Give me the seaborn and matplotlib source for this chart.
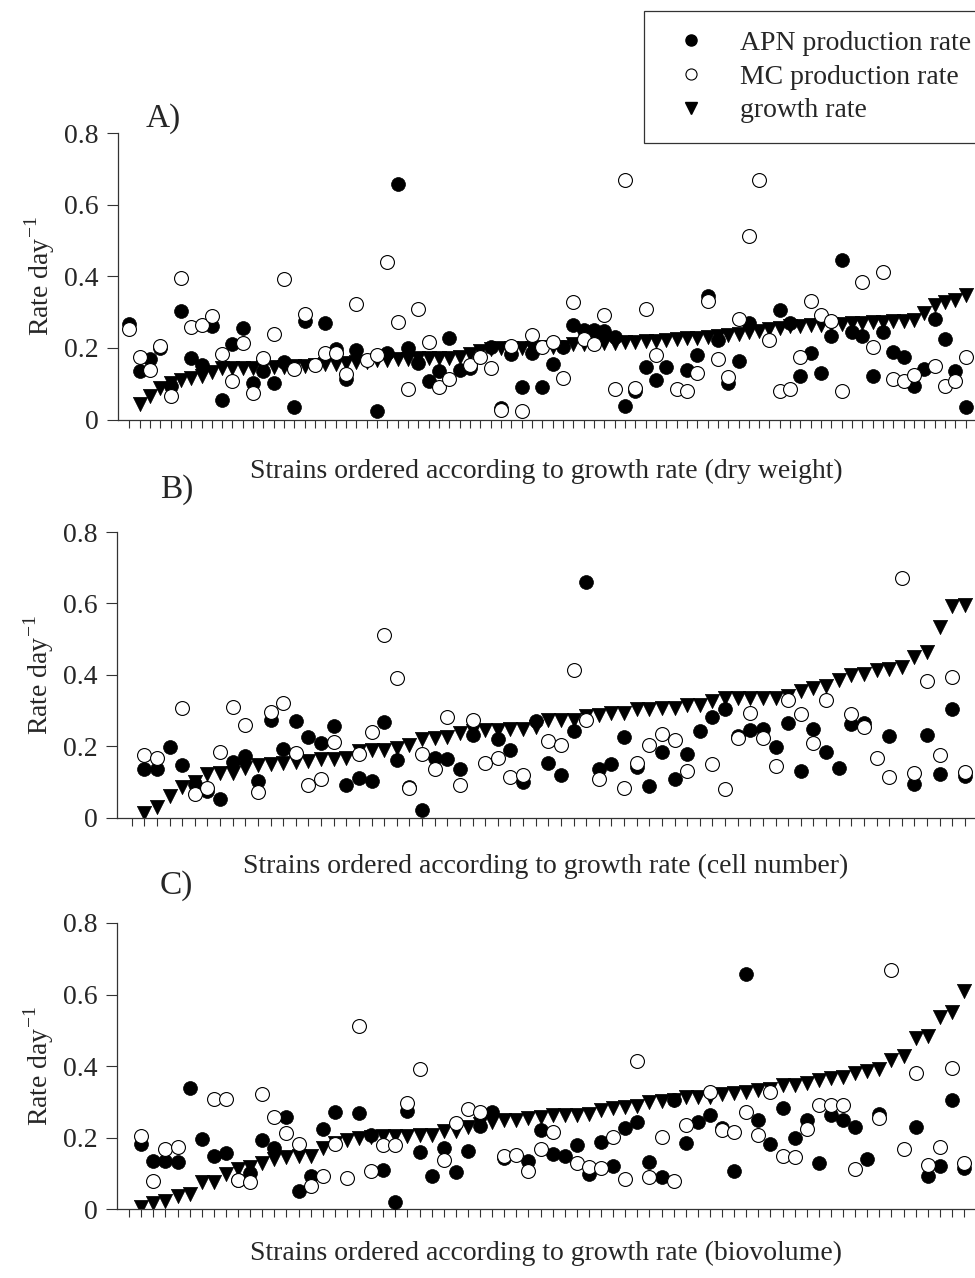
import numpy as np
import pandas as pd
import matplotlib
matplotlib.use("Agg")
import matplotlib.pyplot as plt
from matplotlib.lines import Line2D
import seaborn as sns

nan = np.nan

# Panel A - dry weight (82 strains)
apn_a = [0.266, 0.135, 0.169, 0.20, 0.094, 0.303, 0.173, 0.152, 0.262, 0.054,
         0.21, 0.257, 0.101, 0.136, 0.103, 0.162, 0.036, 0.274, nan, 0.271,
         0.196, 0.114, 0.194, nan, 0.023, 0.185, 0.657, 0.199, 0.157, 0.108,
         0.135, 0.229, 0.138, 0.143, nan, 0.203, 0.031, 0.183, 0.092, 0.185,
         0.09, 0.155, 0.203, 0.264, 0.25, 0.25, 0.248, 0.231, 0.038, 0.08,
         0.147, 0.11, 0.147, nan, 0.138, 0.18, 0.344, 0.222, 0.101, 0.164,
         0.27, nan, nan, 0.305, 0.271, 0.121, 0.185, 0.129, 0.234, 0.445,
         0.245, 0.234, 0.121, 0.245, 0.189, 0.175, 0.094, 0.141, 0.282, 0.225,
         0.135, 0.034]
mc_a = [0.253, 0.174, 0.138, 0.206, 0.067, 0.396, 0.259, 0.264, 0.29, 0.184,
        0.108, 0.213, 0.075, 0.171, 0.24, 0.392, 0.142, 0.295, 0.153, 0.185,
        0.185, 0.128, 0.322, 0.166, 0.18, 0.439, 0.272, 0.086, 0.308, 0.217,
        0.092, 0.113, nan, 0.152, 0.175, 0.144, 0.027, 0.206, 0.025, 0.236,
        0.203, 0.217, 0.115, 0.329, 0.226, 0.212, 0.291, 0.085, 0.668, 0.087,
        0.308, 0.18, nan, 0.085, 0.08, 0.129, 0.331, 0.168, 0.119, 0.282,
        0.512, 0.668, 0.222, 0.08, 0.084, 0.175, 0.331, 0.291, 0.275, 0.08,
        nan, 0.383, 0.203, 0.412, 0.113, 0.108, 0.124, nan, 0.15, 0.093,
        0.108, 0.175]
growth_a = [nan, 0.043, 0.067, 0.089, 0.103, 0.110, 0.115, 0.122, 0.133, 0.143,
            0.143, 0.143, 0.145, 0.147, 0.147, 0.148, 0.149, 0.150, 0.152, 0.155,
            0.156, 0.158, 0.160, 0.162, 0.165, 0.167, 0.170, 0.170, 0.171, 0.171,
            0.172, 0.172, 0.175, 0.183, 0.192, 0.197, 0.199, 0.200, 0.201, 0.201,
            0.202, 0.203, 0.204, 0.210, 0.212, 0.213, 0.214, 0.215, 0.217, 0.217,
            0.218, 0.220, 0.223, 0.225, 0.227, 0.229, 0.231, 0.232, 0.236, 0.238,
            0.245, 0.248, 0.254, 0.255, 0.260, 0.261, 0.263, 0.265, 0.266, 0.268,
            0.269, 0.271, 0.272, 0.273, 0.274, 0.275, 0.279, 0.298, 0.319, 0.329,
            0.335, 0.347]

# Panel B - cell number (67 slots, first one empty)
apn_b = [nan, 0.135, 0.135, 0.197, 0.147, 0.094, 0.074, 0.051, 0.157, 0.173,
         0.101, 0.273, 0.191, 0.271, 0.225, 0.208, 0.257, 0.091, 0.11, 0.101,
         0.269, 0.16, 0.085, 0.021, 0.168, 0.163, 0.135, 0.231, nan, 0.22,
         0.188, 0.099, 0.271, 0.154, 0.119, 0.243, 0.659, 0.135, 0.149, 0.227,
         0.143, 0.088, 0.185, 0.107, 0.178, 0.243, 0.283, 0.304, 0.229, 0.245,
         0.247, 0.199, 0.264, 0.129, 0.248, 0.183, 0.14, 0.261, 0.264, nan,
         0.229, nan, 0.093, 0.231, 0.121, 0.303, 0.115]
mc_b = [nan, 0.174, 0.168, nan, 0.307, 0.065, 0.084, 0.183, 0.309, 0.258,
        0.072, 0.295, 0.322, 0.182, 0.091, 0.107, 0.212, nan, 0.177, 0.241,
        0.512, 0.392, 0.084, 0.178, 0.136, 0.281, 0.091, 0.273, 0.152, 0.166,
        0.113, 0.119, nan, 0.215, 0.202, 0.413, 0.274, 0.107, nan, 0.084,
        0.152, 0.202, 0.234, 0.217, 0.129, nan, 0.149, 0.079, 0.222, 0.292,
        0.224, 0.145, 0.33, 0.29, 0.21, 0.33, nan, 0.289, 0.255, 0.166,
        0.113, 0.67, 0.124, 0.383, 0.175, 0.395, 0.127]
growth_b = [nan, 0.014, 0.030, 0.061, 0.085, 0.100, 0.121, 0.124, 0.124, 0.138,
            0.147, 0.149, 0.154, 0.157, 0.159, 0.163, 0.163, 0.168, 0.187, 0.189,
            0.189, 0.194, 0.203, 0.219, 0.222, 0.227, 0.236, 0.243, 0.245, 0.245,
            0.247, 0.247, 0.255, 0.272, 0.274, 0.274, 0.285, 0.288, 0.292, 0.294,
            0.304, 0.304, 0.306, 0.308, 0.315, 0.315, 0.327, 0.334, 0.334, 0.334,
            0.334, 0.334, 0.341, 0.355, 0.362, 0.369, 0.384, 0.398, 0.402, 0.414,
            0.416, 0.423, 0.451, 0.465, 0.534, 0.593, 0.596]

# Panel C - biovolume (70 slots, first one empty)
apn_c = [nan, 0.182, 0.136, 0.136, 0.133, 0.34, 0.197, 0.149, 0.157, 0.082,
         0.1, 0.194, 0.172, 0.257, 0.051, 0.093, 0.225, 0.271, nan, 0.27,
         0.208, 0.11, 0.021, 0.275, 0.159, 0.094, 0.171, 0.103, 0.164, 0.234,
         0.271, 0.143, nan, 0.136, 0.222, 0.154, 0.149, 0.18, 0.099, 0.189,
         0.121, 0.227, 0.245, 0.133, 0.091, 0.306, 0.185, 0.243, 0.262, 0.227,
         0.107, 0.658, 0.25, 0.182, 0.283, 0.2, 0.25, 0.129, 0.262, 0.248,
         0.229, 0.141, 0.267, nan, nan, 0.231, 0.094, 0.121, 0.304, 0.115]
mc_c = [nan, 0.205, 0.079, 0.169, 0.173, nan, nan, 0.308, 0.308, 0.082,
        0.075, 0.322, 0.259, 0.213, 0.183, 0.066, 0.093, 0.182, 0.087, 0.511,
        0.108, 0.18, 0.18, 0.297, 0.392, nan, 0.138, 0.241, 0.281, 0.273,
        nan, 0.15, 0.152, 0.107, 0.168, 0.215, nan, 0.129, 0.119, 0.115,
        0.201, 0.085, 0.413, 0.091, 0.201, 0.079, 0.236, nan, 0.329, 0.222,
        0.217, 0.273, 0.208, 0.329, 0.149, 0.145, 0.224, 0.29, 0.29, 0.292,
        0.113, nan, 0.255, 0.669, 0.168, 0.382, 0.124, 0.175, 0.394, 0.129]
growth_c = [nan, 0.007, 0.017, 0.023, 0.037, 0.042, 0.075, 0.077, 0.098, 0.112,
            0.117, 0.129, 0.14, 0.145, 0.15, 0.15, 0.172, 0.185, 0.194, 0.199,
            0.203, 0.204, 0.206, 0.206, 0.207, 0.208, 0.219, 0.22, 0.231, 0.238,
            0.245, 0.248, 0.25, 0.255, 0.259, 0.262, 0.264, 0.264, 0.265, 0.278,
            0.284, 0.287, 0.288, 0.301, 0.302, 0.306, 0.313, 0.313, 0.314, 0.322,
            0.326, 0.329, 0.334, 0.335, 0.346, 0.348, 0.352, 0.36, 0.366, 0.369,
            0.38, 0.387, 0.392, 0.416, 0.429, 0.478, 0.485, 0.537, 0.551, 0.609]

panel_letters = ["A)", "B)", "C)"]
x_labels = ["Strains ordered according to growth rate (dry weight)",
            "Strains ordered according to growth rate (cell number)",
            "Strains ordered according to growth rate (biovolume)"]
y_ticks = [0, 0.2, 0.4, 0.6, 0.8]
y_tick_labels = ["0", "0.2", "0.4", "0.6", "0.8"]
legend_labels = ["APN production rate", "MC production rate", "growth rate"]

sns.set_style("ticks")
plt.rcParams["font.family"] = ["Liberation Serif", "DejaVu Serif"]
plt.rcParams["mathtext.fontset"] = "custom"
plt.rcParams["mathtext.rm"] = "Liberation Serif"
plt.rcParams["font.size"] = 20

fig = plt.figure(figsize=(9.75, 12.78), dpi=100)

# axes boxes in figure fractions, x limits per panel
boxes = [[0.121, 0.6717, 0.879, 0.2242],
         [0.120, 0.3603, 0.880, 0.2234],
         [0.120, 0.0538, 0.880, 0.2240]]
xlims = [(-1.09, 81.9), (-1.16, 66.8), (-1.0, 69.9)]
letter_pos = [(0.032, 1.052), (0.05, 1.15), (0.05, 1.13)]
label_pads = [19, 17, 13]

panels = [(apn_a, mc_a, growth_a), (apn_b, mc_b, growth_b), (apn_c, mc_c, growth_c)]

for k, (apn, mc, gr) in enumerate(panels):
    ax = fig.add_axes(boxes[k])
    df = pd.DataFrame({"strain": np.arange(len(apn)), "apn": apn, "mc": mc, "growth": gr})

    sns.scatterplot(data=df, x="strain", y="growth", ax=ax, marker="v", color="black",
                    s=105, edgecolor="black", linewidth=0.5, zorder=2)
    sns.scatterplot(data=df, x="strain", y="apn", ax=ax, marker="o", color="black",
                    s=100, edgecolor="black", linewidth=0.5, zorder=3)
    sns.scatterplot(data=df, x="strain", y="mc", ax=ax, marker="o", color="white",
                    s=100, edgecolor="black", linewidth=0.8, zorder=4)

    ax.set_xlim(*xlims[k])
    ax.set_ylim(0, 0.8)
    ax.set_xticks(df["strain"])
    ax.set_xticklabels([])
    ax.set_yticks(y_ticks)
    ax.set_yticklabels(y_tick_labels)
    ax.tick_params(axis="x", direction="out", length=6, width=0.8, color="#333333")
    ax.tick_params(axis="y", direction="out", length=8, width=0.8, color="#333333",
                   labelsize=20, pad=6)
    for side in ["top", "right"]:
        ax.spines[side].set_visible(False)
    for side in ["left", "bottom"]:
        ax.spines[side].set_linewidth(0.9)
        ax.spines[side].set_color("#333333")

    ax.set_xlabel(x_labels[k], fontsize=20, labelpad=label_pads[k])
    ax.set_ylabel("Rate day$^{\\mathrm{-1}}$", fontsize=20, labelpad=5)
    ax.text(letter_pos[k][0], letter_pos[k][1], panel_letters[k], transform=ax.transAxes,
            fontsize=24, ha="left", va="center")

handles = [Line2D([], [], marker="o", linestyle="none", markerfacecolor="black",
                  markeredgecolor="black", markersize=8),
           Line2D([], [], marker="o", linestyle="none", markerfacecolor="white",
                  markeredgecolor="black", markersize=8, markeredgewidth=0.8),
           Line2D([], [], marker="v", linestyle="none", markerfacecolor="black",
                  markeredgecolor="black", markersize=8)]
leg = fig.legend(handles, legend_labels, loc="upper left",
                 bbox_to_anchor=(644 / 975, 1 - 11 / 1278), frameon=True,
                 fancybox=False, framealpha=1, edgecolor="#333333", fontsize=20,
                 borderpad=0.7, labelspacing=0.3, handlelength=2.0, handletextpad=0.75,
                 borderaxespad=0)
leg.get_frame().set_linewidth(0.9)

fig.savefig("out.png", dpi=100)
